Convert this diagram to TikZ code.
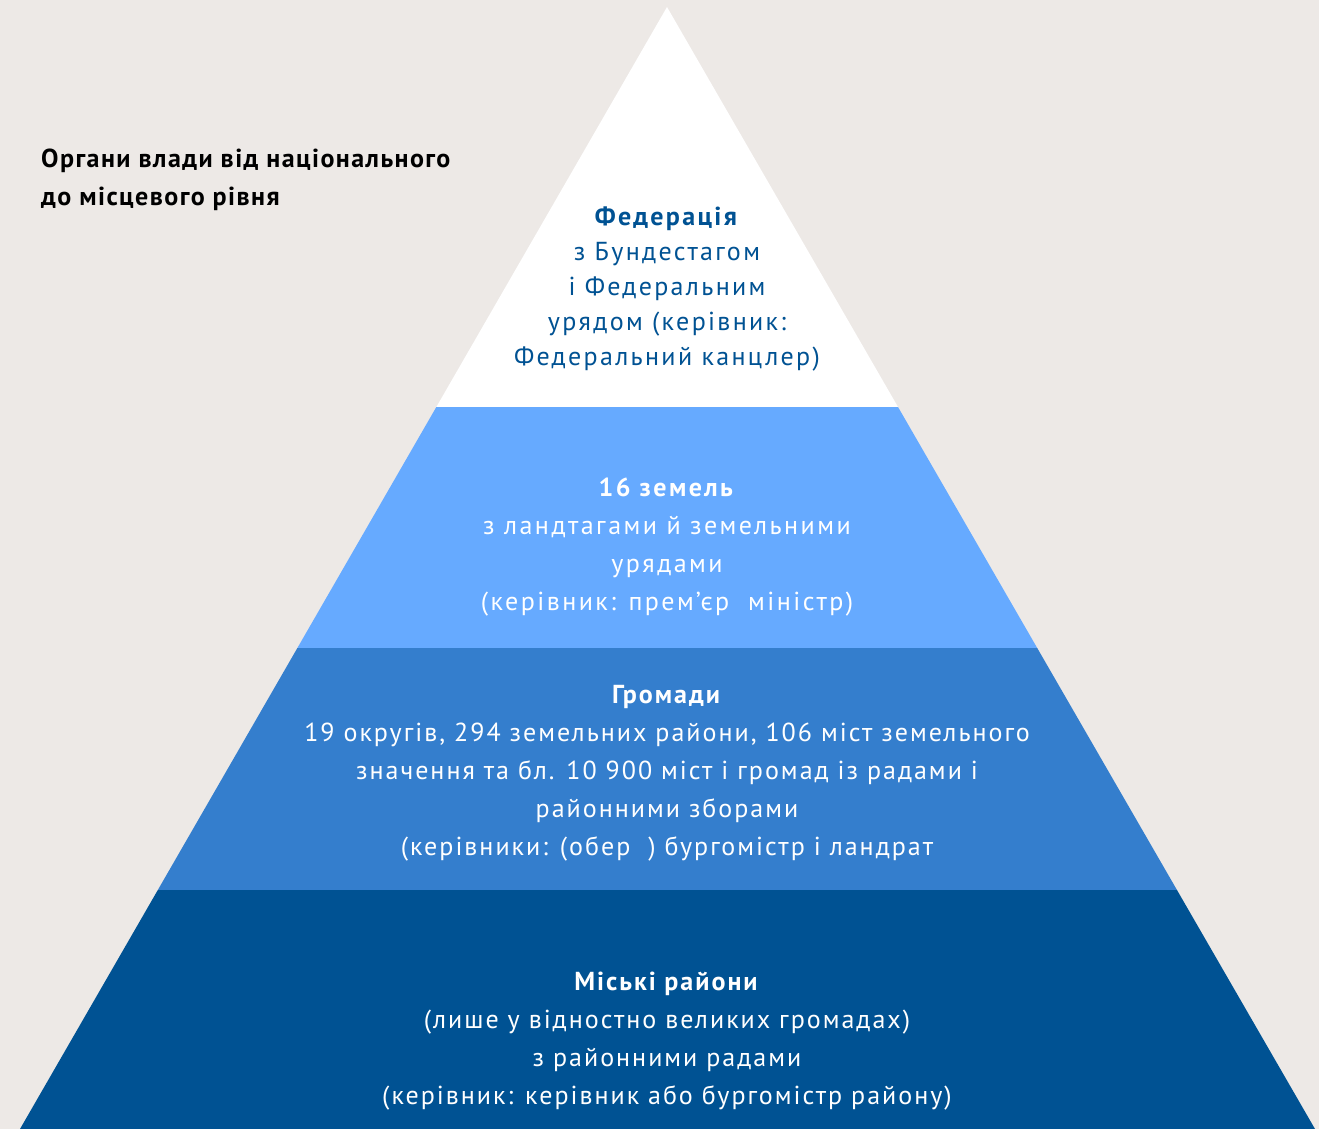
\documentclass[tikz,border=0pt]{standalone}
\usepackage{fontspec}
\setmainfont{PT Sans}
\usetikzlibrary{calc}
\definecolor{paper}{RGB}{237,233,230}
\definecolor{bluelight}{RGB}{102,170,255}
\definecolor{bluemid}{RGB}{52,126,205}
\definecolor{bluedark}{RGB}{0,82,147}
\tikzset{
  every picture/.style = {
    x = 1pt,
    y = -1pt
  }
  , % text inside the layers
  layer-text/.style = {
    align = center,
    inner sep = 0pt,
    text = white,
    font = \fontsize{26}{38}\selectfont\addfontfeature{LetterSpace=7.7}
  }
  ,
  wide-text/.style = {
    layer-text,
    font = \fontsize{26}{38}\selectfont\addfontfeature{LetterSpace=9.5}
  }
  ,
  top-text/.style = {
    layer-text,
    text = bluedark,
    font = \fontsize{26}{35}\selectfont\addfontfeature{LetterSpace=9}
  }
  , % heading on the left
  title-text/.style = {
    align = left,
    inner sep = 0pt,
    text = black,
    font = \fontsize{26}{38}\selectfont\bfseries\addfontfeature{LetterSpace=5.5}
  }
}

\begin{document}
\begin{tikzpicture}
    \fill [paper] (0,0) rectangle (1319,1129);
    \useasboundingbox (0,0) rectangle (1319,1129);
    % corners of the pyramid
    \coordinate (apex) at (667,7);
    \coordinate (base-l) at (20,1129);
    \coordinate (base-r) at (1315,1129);
    \foreach \name/\t in {cut1/0.3565, cut2/0.5713, cut3/0.787} {
      \coordinate (\name-l) at ($(apex)!\t!(base-l)$);
      \coordinate (\name-r) at ($(apex)!\t!(base-r)$);
    }
    \fill [white] (apex) -- (cut1-r) -- (cut1-l) -- cycle;
    \fill [bluelight] (cut1-l) -- (cut1-r) -- (cut2-r) -- (cut2-l) -- cycle;
    \fill [bluemid] (cut2-l) -- (cut2-r) -- (cut3-r) -- (cut3-l) -- cycle;
    \fill [bluedark] (cut3-l) -- (cut3-r) -- (base-r) -- (base-l) -- cycle;

    \node [title-text, anchor = west] (title) at (41,180)
      {Органи влади від національного\\до місцевого рівня};

    \node [top-text] (fed) at (667,289)
      {\textbf{Федерація}\\з Бундестагом\\і Федеральним\\урядом (керівник:\\Федеральний канцлер)};
    \node [wide-text] (land) at (667,547)
      {\textbf{16 земель}\\з ландтагами й земельними\\урядами\\(керівник: прем’єр\ \ міністр)};
    \node [layer-text] (grom) at (667,773)
      {\textbf{Громади}\\19 округів, 294 земельних райони, 106 міст земельного\\значення та бл. 10 900 міст і громад із радами і\\районними зборами\\(керівники: (обер\ \ ) бургомістр і ландрат};
    \node [layer-text] (stadt) at (667,1041)
      {\textbf{Міські райони}\\(лише у відностно великих громадах)\\з районними радами\\(керівник: керівник або бургомістр району)};
\end{tikzpicture}
\end{document}
